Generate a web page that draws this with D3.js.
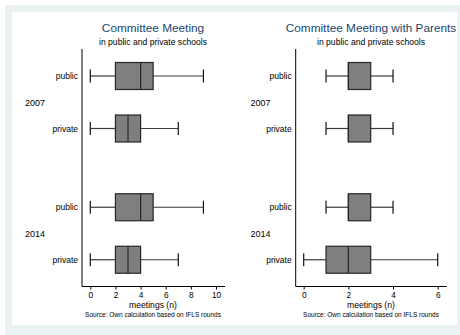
<!DOCTYPE html>
<html>
<head>
<meta charset="utf-8">
<script src="https://cdn.jsdelivr.net/npm/d3@7"></script>
<style>
  html, body { margin: 0; padding: 0; background: #ffffff; }
  svg { display: block; font-family: "Liberation Sans", Arial, sans-serif; }
</style>
</head>
<body>
<svg id="chart" width="460" height="335"></svg>
<script>
// Row layout: school type within survey year
const years = ["2007", "2014"];
const schoolTypes = ["public", "private"];

// Five-number summaries per row [min, q1, median, q3, max], order: 2007 public, 2007 private, 2014 public, 2014 private
const committeeMeeting = [
  [0, 2, 4, 5, 9],
  [0, 2, 3, 4, 7],
  [0, 2, 4, 5, 9],
  [0, 2, 3, 4, 7]
];
const committeeMeetingParents = [
  [1, 2, 2, 3, 4],
  [1, 2, 2, 3, 4],
  [1, 2, 2, 3, 4],
  [0, 1, 2, 3, 6]
];

const leftTicks = [0, 2, 4, 6, 8, 10];
const rightTicks = [0, 2, 4, 6];

const svg = d3.select("#chart");

// Outer frame band and white plot region
svg.append("rect").attr("x", 5).attr("y", 5).attr("width", 455).attr("height", 330).attr("fill", "#eaf2f3");
svg.append("rect").attr("x", 12).attr("y", 12).attr("width", 445).attr("height", 313).attr("fill", "#ffffff");

const rows = [];
years.forEach((yr, gi) => schoolTypes.forEach((t, ti) => rows.push({ year: yr, type: t, slot: gi * 2.5 + ti })));

const y = d3.scaleLinear().domain([0, 1]).range([76, 128.5]);

function panel(opts) {
  const g = svg.append("g");
  const x = d3.scaleLinear().domain(opts.domain).range(opts.range);
  const axisY = 286.5;

  // Titles
  g.append("text").attr("x", opts.center).attr("y", 32.3).attr("text-anchor", "middle")
    .attr("font-size", 11.8).attr("fill", "#1a476f").text(opts.title);
  g.append("text").attr("x", opts.center).attr("y", 45).attr("text-anchor", "middle")
    .attr("font-size", 8.6).attr("fill", "#000").text("in public and private schools");

  // Vertical axis line
  g.append("line").attr("x1", opts.axisX).attr("x2", opts.axisX).attr("y1", 49).attr("y2", axisY)
    .attr("stroke", "#000").attr("stroke-width", 1);

  // Bottom axis
  const xAxis = d3.axisBottom(x).tickValues(opts.ticks).tickFormat(d3.format("d"))
    .tickSize(3).tickPadding(3).tickSizeOuter(0);
  const ax = g.append("g").attr("transform", `translate(0,${axisY})`).call(xAxis);
  ax.select(".domain").remove();
  ax.append("line").attr("x1", opts.axisX).attr("x2", opts.axisEnd).attr("y1", 0).attr("y2", 0)
    .attr("stroke", "#000").attr("stroke-width", 1);
  ax.selectAll(".tick line").attr("stroke", "#000");
  ax.selectAll(".tick text").attr("font-size", 8.3).attr("fill", "#000")
    .attr("font-family", "Liberation Sans, Arial, sans-serif");

  g.append("text").attr("x", opts.center).attr("y", 308.2).attr("text-anchor", "middle")
    .attr("font-size", 8.6).attr("fill", "#000").text("meetings (n)");
  g.append("text").attr("x", opts.center).attr("y", 317.4).attr("text-anchor", "middle")
    .attr("font-size", 6.5).attr("fill", "#000").text("Source: Own calculation based on IFLS rounds");

  // Row and group labels
  rows.forEach(r => {
    g.append("text").attr("x", opts.axisX - 4).attr("y", y(r.slot) + 3).attr("text-anchor", "end")
      .attr("font-size", 8.5).attr("fill", "#000").text(r.type);
  });
  years.forEach((yr, gi) => {
    g.append("text").attr("x", opts.yearX).attr("y", (y(gi * 2.5) + y(gi * 2.5 + 1)) / 2 + 3.5)
      .attr("font-size", 9).attr("fill", "#000").text(yr);
  });

  // Box plots
  const half = 13.5, cap = 12;
  opts.data.forEach((d, i) => {
    const cy = y(rows[i].slot);
    const [mn, q1, md, q3, mx] = d;
    const b = g.append("g");
    b.append("line").attr("x1", x(mn)).attr("x2", x(q1)).attr("y1", cy).attr("y2", cy)
      .attr("stroke", "#3a3a3a").attr("stroke-width", 1.2);
    b.append("line").attr("x1", x(q3)).attr("x2", x(mx)).attr("y1", cy).attr("y2", cy)
      .attr("stroke", "#3a3a3a").attr("stroke-width", 1.2);
    b.append("line").attr("x1", x(mn)).attr("x2", x(mn)).attr("y1", cy - cap / 2 - 0.5).attr("y2", cy + cap / 2 + 0.5)
      .attr("stroke", "#111").attr("stroke-width", 1.2);
    b.append("line").attr("x1", x(mx)).attr("x2", x(mx)).attr("y1", cy - cap / 2 - 0.5).attr("y2", cy + cap / 2 + 0.5)
      .attr("stroke", "#111").attr("stroke-width", 1.2);
    b.append("rect").attr("x", x(q1)).attr("y", cy - half).attr("width", x(q3) - x(q1)).attr("height", half * 2)
      .attr("fill", "#7f7f7f").attr("stroke", "#262626").attr("stroke-width", 1.2);
    b.append("line").attr("x1", x(md)).attr("x2", x(md)).attr("y1", cy - half).attr("y2", cy + half)
      .attr("stroke", "#262626").attr("stroke-width", 1.2);
  });
}

panel({
  title: "Committee Meeting", data: committeeMeeting, domain: [0, 10], range: [90.3, 216],
  ticks: leftTicks, axisX: 82, axisEnd: 225, center: 153, yearX: 25
});
panel({
  title: "Committee Meeting with Parents", data: committeeMeetingParents, domain: [0, 6], range: [303.7, 437.7],
  ticks: rightTicks, axisX: 295.7, axisEnd: 447, center: 371, yearX: 250.5
});
</script>
</body>
</html>
